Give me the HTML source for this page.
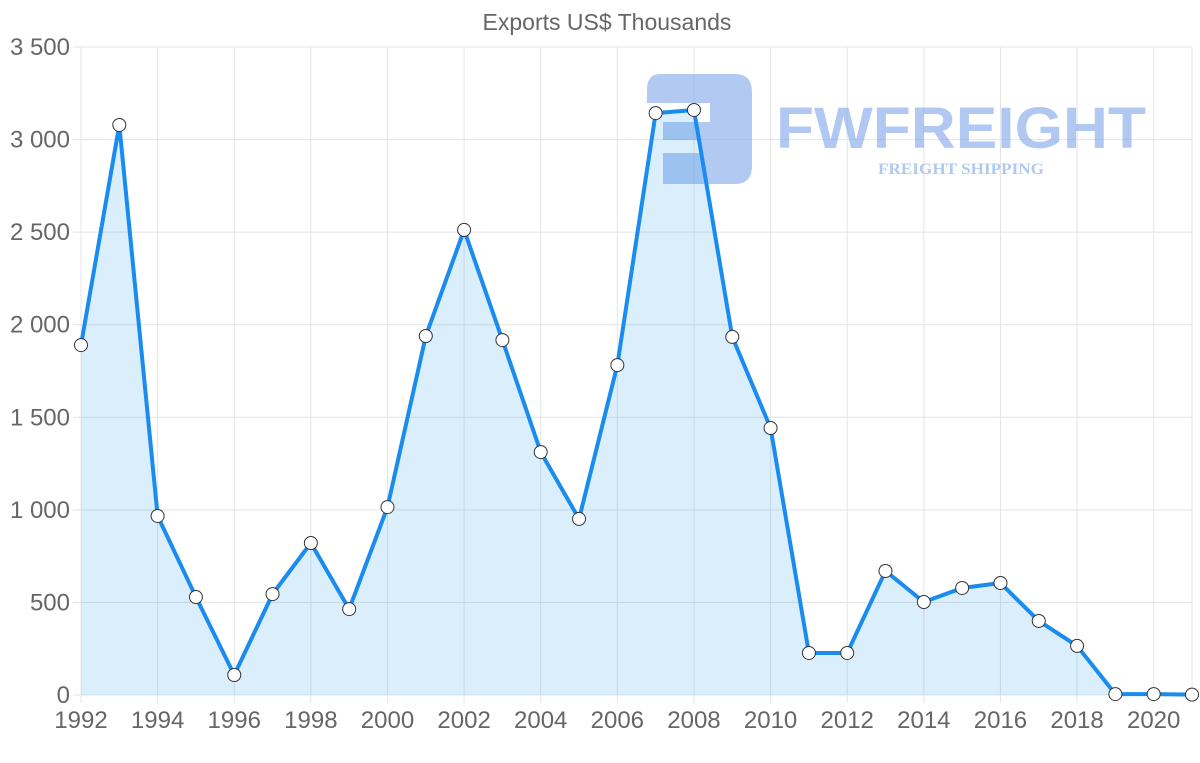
<!DOCTYPE html>
<html><head><meta charset="utf-8"><style>
body{margin:0;background:#fff;font-family:"Liberation Sans",sans-serif}
svg{display:block}
</style></head><body>
<svg id="chart" width="1200" height="763" viewBox="0 0 1200 763" xmlns="http://www.w3.org/2000/svg">
<text x="607" y="30" text-anchor="middle" font-size="23" fill="#666">Exports US$ Thousands</text>
<g id="grid"></g>
<g opacity="0.6">
<path d="M660 74 H735 Q752 74 752 92 V166 Q752 184 735 184 H663 V153 H700 V140 H663 V122 H710 V103 H647 V90 Q647 74 660 74 Z" fill="#7ea6ea"/>
<text x="776" y="148" font-size="58" font-weight="bold" fill="#7ea6ea" textLength="370" lengthAdjust="spacingAndGlyphs">FWFREIGHT</text>
<text x="961" y="174" text-anchor="middle" font-family="Liberation Serif,serif" font-size="16" font-weight="bold" fill="#7ea6ea" textLength="166" lengthAdjust="spacingAndGlyphs">FREIGHT SHIPPING</text>
</g>
<g id="plot"></g>
<g id="axes"></g>
</svg>
<script>
const years=[1992,1993,1994,1995,1996,1997,1998,1999,2000,2001,2002,2003,2004,2005,2006,2007,2008,2009,2010,2011,2012,2013,2014,2015,2016,2017,2018,2019,2020,2021];
const exportsValues=[1890,3079,967,529,108,545,821,464,1015,1939,2512,1917,1312,951,1782,3143,3160,1934,1442,227,227,670,502,578,605,400,265,5,5,2];
const yTicks=[0,500,1000,1500,2000,2500,3000,3500];
const yTickLabels=["0","500","1 000","1 500","2 000","2 500","3 000","3 500"];
const NS="http://www.w3.org/2000/svg";
const L=81,R=1192,T=47,B=695;
const xs=y=>L+(y-years[0])/(years[years.length-1]-years[0])*(R-L);
const ys=v=>B-v/3500*(B-T);
function mk(tag,attrs,parent){const e=document.createElementNS(NS,tag);for(const k in attrs)e.setAttribute(k,attrs[k]);parent.appendChild(e);return e;}
const grid=document.getElementById('grid'),plot=document.getElementById('plot'),axes=document.getElementById('axes');
yTicks.forEach((t,i)=>{
  const ln=mk('line',{x1:L-8,x2:R,y1:ys(t),y2:ys(t),stroke:'#e4e4e4','stroke-width':1},grid);
  
  
  const tx=mk('text',{x:70,y:ys(t)+8,'text-anchor':'end','font-size':24,fill:'#666'},axes);
  tx.textContent=yTickLabels[i];
  
  
});
years.forEach((yr,i)=>{
  if(i%2!==0) return;
  const ln=mk('line',{x1:xs(yr),x2:xs(yr),y1:T,y2:B+8,stroke:'#e4e4e4','stroke-width':1},grid);
  
  
  const tx=mk('text',{x:xs(yr),y:728,'text-anchor':'middle','font-size':24,fill:'#666'},axes);
  tx.textContent=yr;
  
  
});
mk('line',{x1:R,x2:R,y1:T,y2:B,stroke:'#e4e4e4'},grid);
const pts=years.map((y,i)=>[xs(y),ys(exportsValues[i])]);
const area=mk('path',{d:'M'+pts.map(p=>p.join(',')).join(' L')+` L${R},${B} L${L},${B} Z`,fill:'rgba(54,162,235,0.18)'},plot);


const line=mk('path',{d:'M'+pts.map(p=>p.join(',')).join(' L'),fill:'none',stroke:'#1a8cf0','stroke-width':4,'stroke-linejoin':'round'},plot);


pts.forEach(p=>{
  const c=mk('circle',{cx:p[0],cy:p[1],r:6.5,fill:'#fff',stroke:'#333','stroke-width':1},plot);
  
  
});
</script>
</body></html>
